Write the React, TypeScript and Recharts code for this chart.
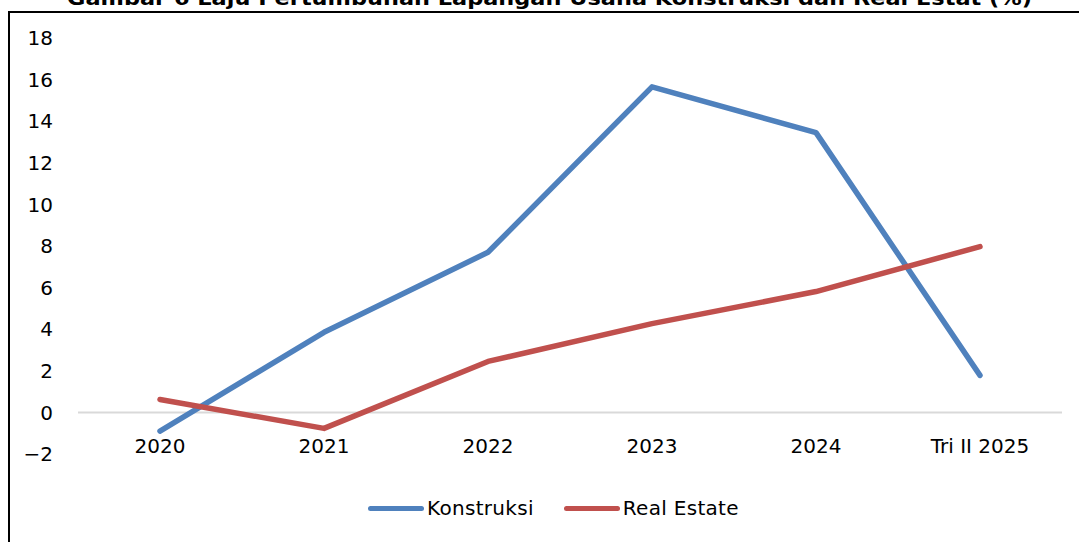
import { Line, LineChart, ReferenceLine, XAxis, YAxis } from "recharts";

const C = {
  konstruksi: "#4f81bd",
  realEstate: "#c0504d",
  zero: "#d9d9d9",
  ink: "#000000",
};

const FONT = "'DejaVu Sans', sans-serif";

const YEARS = ["2020", "2021", "2022", "2023", "2024", "Tri II 2025"];
const KONSTRUKSI = [-0.9, 3.85, 7.7, 15.65, 13.45, 1.78];
const REAL_ESTATE = [0.62, -0.77, 2.45, 4.27, 5.81, 7.97];
const Y_TICKS = [-2, 0, 2, 4, 6, 8, 10, 12, 14, 16, 18];

const TITLE = "Gambar 6 Laju Pertumbuhan Lapangan Usaha Konstruksi dan Real Estat (%)";

const SERIES = [
  { key: "konstruksi", label: "Konstruksi", color: C.konstruksi },
  { key: "realEstate", label: "Real Estate", color: C.realEstate },
];

const data = YEARS.map((name, i) => ({
  name,
  konstruksi: KONSTRUKSI[i],
  realEstate: REAL_ESTATE[i],
}));

function XTick({ x, y, payload }: any) {
  return (
    <text x={x} y={y - 1} textAnchor="middle" fontFamily={FONT} fontSize={20} fill={C.ink}>
      {payload.value}
    </text>
  );
}

export default function App() {
  return (
    <div style={{ position: "absolute", left: 0, top: 0, width: 1079, height: 542, background: "#fff", overflow: "hidden" }}>
      <svg width={1079} height={542} style={{ position: "absolute", left: 0, top: 0 }}>
        <text
          x={67}
          y={5}
          textLength={965}
          lengthAdjust="spacingAndGlyphs"
          fontFamily={FONT}
          fontWeight="bold"
          fontSize={19}
          fill={C.ink}
        >
          {TITLE}
        </text>
        <path d="M9 560 L9 12 L1100 12" fill="none" stroke={C.ink} strokeWidth={2} />
      </svg>
      <div style={{ position: "absolute", left: 0, top: 0 }}>
        <LineChart width={1079} height={542} data={data} margin={{ top: 38, right: 17, left: 0, bottom: 58 }}>
          <XAxis
            dataKey="name"
            axisLine={false}
            tickLine={false}
            tickSize={0}
            tickMargin={0}
            tick={<XTick />}
            interval={0}
            padding={{ left: 82, right: 82 }}
          />
          <YAxis
            domain={[-2, 18]}
            ticks={Y_TICKS}
            width={78}
            axisLine={false}
            tickLine={false}
            tickSize={0}
            tickMargin={25}
            tickFormatter={(v) => String(v).replace("-", "\u2212")}
            tick={{ fontSize: 20, fill: C.ink, fontFamily: FONT }}
          />
          <ReferenceLine y={0} stroke={C.zero} strokeWidth={2} />
          {SERIES.map((s) => (
            <Line
              key={s.key}
              dataKey={s.key}
              stroke={s.color}
              strokeWidth={5.5}
              strokeLinecap="round"
              strokeLinejoin="round"
              dot={false}
              activeDot={false}
              isAnimationActive={false}
            />
          ))}
        </LineChart>
      </div>
      <div
        style={{
          position: "absolute",
          left: 368,
          top: 496,
          display: "flex",
          alignItems: "center",
          gap: 30,
          fontFamily: FONT,
          fontSize: 20,
          letterSpacing: 0.3,
          color: C.ink,
        }}
      >
        {SERIES.map((s) => (
          <div key={s.key} style={{ display: "flex", alignItems: "center", gap: 3 }}>
            <div style={{ width: 56, height: 5, borderRadius: 3, background: s.color }} />
            <span>{s.label}</span>
          </div>
        ))}
      </div>
    </div>
  );
}
